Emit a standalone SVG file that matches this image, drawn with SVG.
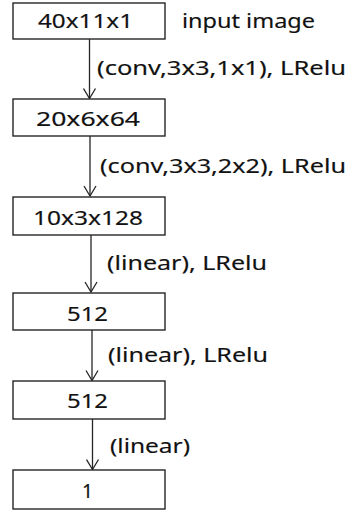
<svg xmlns="http://www.w3.org/2000/svg" width="347" height="514" viewBox="0 0 347 514">
<defs>
<style>
.box{fill:#fff;stroke:#262626;stroke-width:1.4}
.t{font-family:"Noto Sans","Open Sans",sans-serif;font-size:19.5px;fill:#111;stroke:#111;stroke-width:0.15}
.edge{fill:none;stroke:#262626;stroke-width:1.3}
</style>
<marker id="arr" viewBox="-11 -7 13 14" refX="0" refY="0" markerWidth="13" markerHeight="14" markerUnits="userSpaceOnUse" orient="auto">
<path d="M-10,-6 L0,0 L-10,6" fill="none" stroke="#262626" stroke-width="1.3"/>
</marker>
</defs>
<rect width="347" height="514" fill="#fff"/>
<g id="connectors">
<line class="edge" x1="89.5" y1="39" x2="89.5" y2="98.5" marker-end="url(#arr)"/>
<line class="edge" x1="90" y1="136" x2="90" y2="196" marker-end="url(#arr)"/>
<line class="edge" x1="91" y1="235" x2="91" y2="292" marker-end="url(#arr)"/>
<line class="edge" x1="92" y1="330" x2="92" y2="380.5" marker-end="url(#arr)"/>
<line class="edge" x1="92.5" y1="419" x2="92.5" y2="469.5" marker-end="url(#arr)"/>
<text class="t" x="97" y="75" textLength="249" lengthAdjust="spacingAndGlyphs">(conv,3x3,1x1), LRelu</text>
<text class="t" x="100" y="173" textLength="246" lengthAdjust="spacingAndGlyphs">(conv,3x3,2x2), LRelu</text>
<text class="t" x="107" y="270" textLength="160" lengthAdjust="spacingAndGlyphs">(linear), LRelu</text>
<text class="t" x="108" y="362" textLength="160" lengthAdjust="spacingAndGlyphs">(linear), LRelu</text>
<text class="t" x="110" y="453" textLength="80" lengthAdjust="spacingAndGlyphs">(linear)</text>
</g>
<g id="n1">
<rect class="box" x="13" y="3" width="152" height="36"/>
<text class="t" x="38" y="28" textLength="95" lengthAdjust="spacingAndGlyphs">40x11x1</text>
</g>
<g id="n1label">
<text class="t" x="182" y="28" textLength="133" lengthAdjust="spacingAndGlyphs">input image</text>
</g>
<g id="n2">
<rect class="box" x="13" y="99" width="152" height="37"/>
<text class="t" x="36" y="126" textLength="104" lengthAdjust="spacingAndGlyphs">20x6x64</text>
</g>
<g id="n3">
<rect class="box" x="13" y="197" width="152" height="38"/>
<text class="t" x="33" y="225" textLength="110" lengthAdjust="spacingAndGlyphs">10x3x128</text>
</g>
<g id="n4">
<rect class="box" x="13" y="293" width="152" height="37"/>
<text class="t" x="67" y="321" textLength="41" lengthAdjust="spacingAndGlyphs">512</text>
</g>
<g id="n5">
<rect class="box" x="13" y="381" width="152" height="38"/>
<text class="t" x="67" y="408" textLength="41" lengthAdjust="spacingAndGlyphs">512</text>
</g>
<g id="n6">
<rect class="box" x="13" y="470" width="152" height="39"/>
<text class="t" x="82" y="498" textLength="11" lengthAdjust="spacingAndGlyphs">1</text>
</g>
</svg>
